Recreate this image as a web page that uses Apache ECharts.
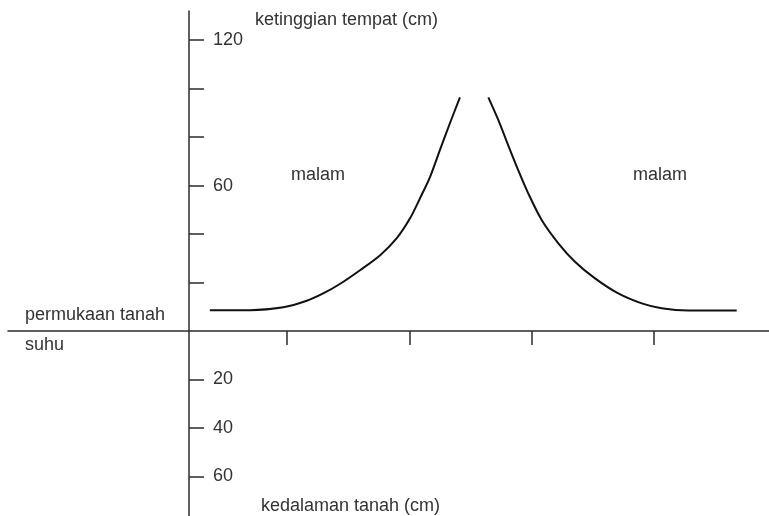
<!DOCTYPE html>
<html>
<head>
<meta charset="utf-8">
<script src="https://cdn.jsdelivr.net/npm/echarts@6/dist/echarts.min.js"></script>
<style>
  html, body { margin: 0; padding: 0; background: #fff; }
  #main { width: 769px; height: 516px; }
</style>
</head>
<body>
<div id="main"></div>
<script>
// kurva kiri dan kanan (x: satuan bebas, y: cm)
var leftX = [0.85, 2.49, 3.85, 4.81, 5.48, 6.16, 7.00, 7.81, 8.48, 9.03, 9.44, 9.85, 10.25, 10.66, 11.07];
var leftY = [8.6, 8.6, 9.8, 12.5, 15.5, 19.4, 25.2, 31.3, 38.2, 46.5, 54.8, 63.6, 74.6, 85.7, 96.4];
var rightX = [12.23, 12.64, 13.04, 13.45, 13.86, 14.41, 15.09, 15.77, 16.59, 17.54, 18.50, 19.31, 20.40, 22.38];
var rightY = [96.4, 87.0, 76.7, 66.4, 56.8, 45.8, 36.2, 28.6, 21.7, 15.5, 11.4, 9.4, 8.5, 8.5];

var xTicks = [4, 9, 14, 19];
var yTicks = [-60, -40, -20, 20, 40, 60, 80, 100, 120];
var yLabels = [120, 60, -20, -40, -60];

function pairs(xs, ys) {
    var out = [];
    for (var i = 0; i < xs.length; i++) {
        out.push([xs[i], ys[i]]);
    }
    return out;
}

var chart = echarts.init(document.getElementById('main'));
var font = 'Liberation Sans, Arial, sans-serif';
var textColor = '#333';
var axisColor = '#2b2b2b';

var option = {
    backgroundColor: '#fff',
    animation: false,
    grid: {
        left: 8,
        right: 0,
        top: 11,
        bottom: -9,
        outerBoundsMode: 'none'
    },
    xAxis: {
        type: 'value',
        min: -7.4,
        max: 23.7,
        splitLine: { show: false },
        axisLine: { onZero: true, lineStyle: { color: axisColor, width: 1.5 } },
        axisTick: {
            show: true,
            customValues: xTicks,
            length: 14,
            lineStyle: { color: axisColor, width: 1.5 }
        },
        axisLabel: { show: false }
    },
    yAxis: {
        type: 'value',
        min: -80,
        max: 132,
        interval: 20,
        splitLine: { show: false },
        axisLine: { show: true, onZero: true, lineStyle: { color: axisColor, width: 1.5 } },
        axisTick: {
            show: true,
            inside: true,
            customValues: yTicks,
            length: 15,
            lineStyle: { color: axisColor, width: 1.5 }
        },
        axisLabel: {
            inside: true,
            customValues: yLabels,
            // labels stay at the grid edge, so push them over to the axis
            margin: 205,
            color: textColor,
            fontSize: 18,
            fontFamily: font,
            formatter: function (v) {
                return String(Math.abs(v));
            }
        }
    },
    graphic: [
        { type: 'text', x: 255, y: 20, style: { text: 'ketinggian tempat (cm)', font: '18px ' + font, fill: textColor, verticalAlign: 'middle' } },
        { type: 'text', x: 261, y: 506, style: { text: 'kedalaman tanah (cm)', font: '18px ' + font, fill: textColor, verticalAlign: 'middle' } },
        { type: 'text', x: 25, y: 315, style: { text: 'permukaan tanah', font: '18px ' + font, fill: textColor, verticalAlign: 'middle' } },
        { type: 'text', x: 25, y: 345, style: { text: 'suhu', font: '18px ' + font, fill: textColor, verticalAlign: 'middle' } },
        { type: 'text', x: 291, y: 175, style: { text: 'malam', font: '18px ' + font, fill: textColor, verticalAlign: 'middle' } },
        { type: 'text', x: 633, y: 175, style: { text: 'malam', font: '18px ' + font, fill: textColor, verticalAlign: 'middle' } }
    ],
    series: [
        {
            type: 'line',
            data: pairs(leftX, leftY),
            smooth: 0.3,
            showSymbol: false,
            lineStyle: { color: '#111', width: 2 }
        },
        {
            type: 'line',
            data: pairs(rightX, rightY),
            smooth: 0.3,
            showSymbol: false,
            lineStyle: { color: '#111', width: 2 }
        }
    ]
};

chart.setOption(option);
</script>
</body>
</html>
